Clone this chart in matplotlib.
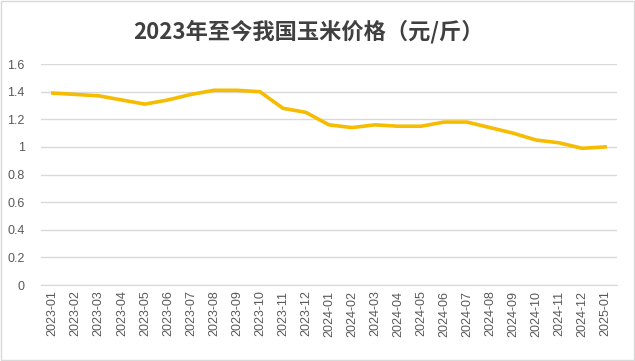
import matplotlib
matplotlib.use("Agg")
import matplotlib.pyplot as plt
from matplotlib.patches import Rectangle
from matplotlib.ticker import FuncFormatter

months = [
    "2023-01", "2023-02", "2023-03", "2023-04", "2023-05", "2023-06",
    "2023-07", "2023-08", "2023-09", "2023-10", "2023-11", "2023-12",
    "2024-01", "2024-02", "2024-03", "2024-04", "2024-05", "2024-06",
    "2024-07", "2024-08", "2024-09", "2024-10", "2024-11", "2024-12",
    "2025-01",
]
prices = [
    1.39, 1.38, 1.37, 1.34, 1.31, 1.34,
    1.38, 1.41, 1.41, 1.40, 1.28, 1.25,
    1.16, 1.14, 1.16, 1.15, 1.15, 1.18,
    1.18, 1.14, 1.10, 1.05, 1.03, 0.99,
    1.00,
]
yticks = [0, 0.2, 0.4, 0.6, 0.8, 1, 1.2, 1.4, 1.6]
title = "2023年至今我国玉米价格（元/斤）"

plt.rcParams["font.family"] = ["Liberation Sans", "Noto Sans CJK SC", "DejaVu Sans"]

fig = plt.figure(figsize=(6.35, 3.61), dpi=100)
ax = fig.add_axes([0.065, 0.2105, 0.906, 0.612])

x = list(range(len(months)))
ax.plot(x, prices, color="#F5BC00", linewidth=2.6, solid_joinstyle="round")

ax.set_xlim(-0.5, len(months) - 0.5)
ax.set_ylim(0, 1.6)
ax.set_yticks(yticks)
ax.yaxis.set_major_formatter(FuncFormatter(lambda v, p: f"{v:g}"))
ax.set_xticks(x)
ax.set_xticklabels(months, rotation=90)
ax.tick_params(axis="both", length=0, colors="#595959", labelsize=9)
ax.tick_params(axis="y", pad=12)
ax.tick_params(axis="x", pad=4)

ax.grid(axis="y", color="#d9d9d9", linewidth=1)
ax.set_axisbelow(True)
for side in ["top", "right", "left"]:
    ax.spines[side].set_visible(False)
ax.spines["bottom"].set_color("#d9d9d9")

fig.text(0.485, 0.912, title, ha="center", va="center", fontsize=16,
         fontweight="bold", color="#404040",
         family=["Noto Sans CJK SC", "DejaVu Sans"])

fig.patches.append(Rectangle((0.002, 0.003), 0.996, 0.994, transform=fig.transFigure,
                             fill=False, edgecolor="#d9d9d9", linewidth=1))

fig.savefig("out.png", dpi=100)
